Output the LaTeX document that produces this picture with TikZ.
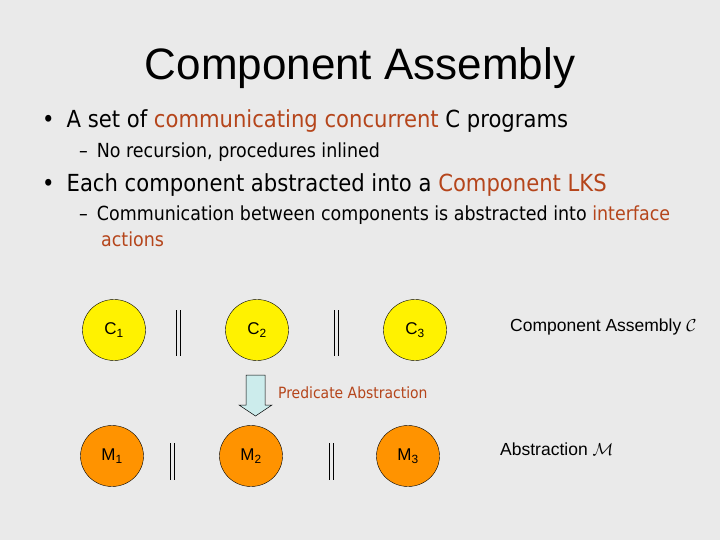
\documentclass[tikz,border=0pt]{standalone}
\usepackage{fontspec}
\setmainfont{Liberation Sans}
\newfontfamily\tah{DejaVu Sans Condensed}
\usepackage{amsmath}
\begin{document}
\begin{tikzpicture}[x=1pt,y=-1pt,
  comp/.style={ellipse,draw=black,fill=yellow,minimum width=63pt,minimum height=61pt,inner sep=0pt,font=\fontsize{17}{19}\selectfont},
  abs/.style={comp,fill=orange!85!yellow},
  bar/.style={draw=black,line width=0.5pt},
  txt/.style={anchor=west,inner sep=0pt}]
\usetikzlibrary{shapes.geometric}
\definecolor{hc}{HTML}{B5451B}
\useasboundingbox[fill={rgb,255:red,234;green,234;blue,234}] (0,0) rectangle (720,540);
\node[inner sep=0pt,font=\fontsize{44}{48}\selectfont] (title) at (360,68) {Component Assembly};
\node[txt,font=\tah\fontsize{23.5}{26}\selectfont] (b1) at (42,121) {•\hspace{12pt}A set of \textcolor{hc}{communicating concurrent} C programs};
\node[txt,font=\tah\fontsize{19.4}{22}\selectfont] (s1) at (79,152) {–\hspace{9pt}No recursion, procedures inlined};
\node[txt,font=\tah\fontsize{23.5}{26}\selectfont] (b2) at (42,185) {•\hspace{12pt}Each component abstracted into a \textcolor{hc}{Component LKS}};
\node[txt,font=\tah\fontsize{19.4}{22}\selectfont] (s2) at (79,215) {–\hspace{9pt}Communication between components is abstracted into \textcolor{hc}{interface}};
\node[txt,font=\tah\fontsize{19.4}{22}\selectfont,text=hc] (s3) at (101,239) {actions};
\node[comp] (c1) at (114,330) {C\textsubscript{1}};
\node[comp] (c2) at (257,330) {C\textsubscript{2}};
\node[comp] (c3) at (415,330) {C\textsubscript{3}};
\node[abs] (m1) at (112,456) {M\textsubscript{1}};
\node[abs] (m2) at (251,456) {M\textsubscript{2}};
\node[abs] (m3) at (408,456) {M\textsubscript{3}};
\coordinate (p1a) at (178,310); \coordinate (p1b) at (178,356);
\coordinate (p2a) at (336,310); \coordinate (p2b) at (336,356);
\coordinate (p3a) at (172,443); \coordinate (p3b) at (172,480);
\coordinate (p4a) at (331,443); \coordinate (p4b) at (331,480);
\foreach \a/\b in {p1a/p1b,p2a/p2b,p3a/p3b,p4a/p4b}{
  \draw[bar] ([xshift=-2pt]\a) -- ([xshift=-2pt]\b);
  \draw[bar] ([xshift=2pt]\a) -- ([xshift=2pt]\b);}
\draw[fill={rgb,255:red,204;green,236;blue,236},draw=black,line width=0.5pt]
  (246,375) -- (265,375) -- (265,405) -- (272,405) -- (255.5,416) -- (239,405) -- (246,405) -- cycle;
\node[txt,font=\tah\fontsize{15.5}{17}\selectfont,text=hc] (pa) at (278,393) {Predicate Abstraction};
\node[txt,font=\fontsize{17.5}{19}\selectfont] (ca) at (510,327) {Component Assembly $\mathcal{C}$};
\node[txt,font=\fontsize{17.5}{19}\selectfont] (am) at (500,449) {Abstraction $\mathcal{M}$};
\end{tikzpicture}
\end{document}
